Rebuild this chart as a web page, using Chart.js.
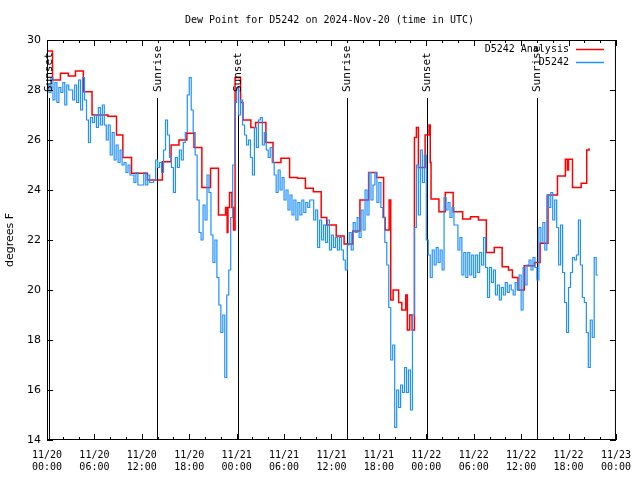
<!DOCTYPE html>
<html><head><meta charset="utf-8">
<script src="https://cdn.jsdelivr.net/npm/chart.js@4"></script>
<style>html,body{margin:0;padding:0;background:#fff}canvas{display:block}</style>
</head><body>
<canvas id="c" width="640" height="480"></canvas>
<script>
const titleText = 'Dew Point for D5242 on 2024-Nov-20 (time in UTC)';
const yAxisTitle = 'degrees F';
const seriesNames = ['D5242 Analysis', 'D5242'];
const seriesColors = ['#ff0000', '#1e90ff'];
const xTickDates = ['11/20','11/20','11/20','11/20','11/21','11/21','11/21','11/21','11/22','11/22','11/22','11/22','11/23'];
const xTickTimes = ['00:00','06:00','12:00','18:00','00:00','06:00','12:00','18:00','00:00','06:00','12:00','18:00','00:00'];
const eventTimes = [0.2, 13.95, 24.15, 37.97, 48.1, 61.98];
const eventLabels = ['Sunset','Sunrise','Sunset','Sunrise','Sunset','Sunrise'];

// hours since 11/20 00:00 UTC
const analysisTimes = [0,0.7,1.7,2.7,3.6,4.6,5.7,7.7,8.8,9.6,
  10.7,12.7,14.6,15.7,16.7,17.7,18.6,19.6,20.7,21.7,
  22.6,22.8,22.9,23.1,23.4,23.6,23.8,24.5,24.8,25.8,
  26.4,27.7,28.6,29.6,30.7,31.7,32.7,33.7,34.7,35.4,
  36.6,37.6,38.7,39.6,40.7,41.7,42.6,42.8,43.3,43.5,
  43.8,44.5,44.9,45.4,45.6,45.9,46.2,46.5,46.75,47.0,
  47.85,48.35,48.5,48.6,49.6,50.4,51.4,52.6,53.6,54.6,
  55.6,56.6,57.6,58.4,58.9,59.6,60.4,61.7,62.4,63.4,
  64.6,65.6,65.85,66.0,66.5,67.6,68.3,68.6];
const analysisValues = [29.56,28.4,28.67,28.56,28.76,27.93,27.0,26.95,26.2,25.3,
  24.67,24.4,25.13,25.8,26.0,26.27,25.7,24.1,24.87,23.0,
  23.3,22.3,23.3,23.9,23.3,22.4,28.5,27.5,26.8,26.5,
  26.7,25.9,25.1,25.27,24.5,24.47,24.07,23.93,22.9,22.6,
  22.16,21.84,22.36,23.6,24.7,24.5,22.9,22.4,23.6,19.6,
  20.0,19.5,19.2,19.8,18.4,19.0,18.4,26.1,26.5,24.9,
  26.2,26.6,25.1,23.64,23.13,23.9,23.13,22.84,22.93,22.8,
  21.5,21.7,20.93,20.8,20.5,20.0,20.97,21.1,21.87,23.8,
  24.56,25.23,24.8,25.23,24.1,24.27,25.6,25.67];

const obsStepHours = 0.25;
const obsValues = [
  28.2,27.9,28.5,27.6, 28.3,27.5,28.1,27.9, 28.3,27.4,28.2,28.0, 28.0,27.6,28.2,27.5,
  28.4,27.2,28.5,27.6, 26.8,25.9,26.9,26.7, 27.0,26.5,27.3,26.6, 27.4,26.6,26.0,26.6,
  25.4,26.3,25.2,25.8, 25.1,25.6,25.0,25.1, 24.7,25.0,24.6,24.6, 24.3,24.7,24.2,24.2,
  24.2,24.7,24.2,24.6, 24.3,24.3,24.4,25.2, 24.9,25.1,24.7,25.6, 26.8,26.2,25.3,24.9,
  23.9,25.3,24.9,25.6, 25.2,25.9,26.3,27.8, 28.5,27.2,26.3,25.4, 23.6,22.3,22.0,23.4,
  22.8,24.6,23.9,22.2, 21.1,22.0,20.5,19.4, 18.3,19.0,16.5,19.8, 20.8,22.9,25.0,27.5,
  28.1,27.0,27.6,26.6, 26.2,25.8,26.0,25.3, 24.6,26.5,25.7,26.8, 26.9,25.8,26.3,25.6,
  25.3,25.7,25.1,24.6, 23.9,24.8,24.0,24.5, 23.6,24.0,23.2,23.8, 23.0,23.6,22.8,23.5,
  23.0,23.6,23.1,23.5, 23.3,23.6,23.6,22.8, 23.2,21.7,22.8,22.0, 22.6,21.9,22.8,21.6,
  22.2,21.7,22.1,21.6, 22.1,21.6,21.2,20.8, 21.8,22.3,21.6,22.7, 22.3,22.9,22.1,23.2,
  22.4,24.0,23.0,24.7, 23.6,24.2,24.7,23.5, 24.3,23.3,22.9,21.9, 21.0,19.3,17.2,17.8,
  14.5,16.0,15.3,16.2, 15.9,16.9,15.9,16.8, 15.2,19.0,22.5,25.0, 23.0,25.6,24.3,25.4,
  22.0,21.4,20.5,21.6, 21.0,21.7,21.1,21.6, 20.8,23.7,23.2,23.5, 22.9,23.3,22.6,22.6,
  21.6,22.1,20.6,21.5, 20.5,21.5,20.6,21.4, 20.5,21.4,20.7,21.5, 21.0,22.1,20.9,19.7,
  20.9,20.3,20.8,19.8, 20.2,19.6,20.1,19.8, 20.3,19.9,20.2,20.0, 19.8,20.3,20.0,20.6,
  19.2,20.9,20.2,21.0, 21.2,20.8,21.3,20.9, 20.4,22.5,21.9,22.7, 21.6,23.8,23.3,23.9,
  22.8,23.6,22.5,21.0, 22.6,20.7,19.5,18.3, 20.1,20.7,21.3,21.2, 21.4,22.8,21.0,19.7,
  19.5,18.3,16.9,18.8, 18.1,21.3,20.6,20.6];

const analysisData = analysisTimes.map((t, i) => ({x: t, y: analysisValues[i]}));
const obsData = obsValues.map((v, i) => ({x: i * obsStepHours, y: v}));

const MONO = 'DejaVu Sans Mono';
const SANS = 'DejaVu Sans';

const decorPlugin = {
  id: 'decor',
  beforeDatasetsDraw(chart) {
    const {ctx, chartArea: a, scales: {x}} = chart;
    ctx.save();
    ctx.strokeStyle = '#000';
    ctx.lineWidth = 1;
    eventTimes.forEach(t => {
      const px = Math.round(x.getPixelForValue(t)) + 0.5;
      ctx.beginPath();
      ctx.moveTo(px, a.top + 58);
      ctx.lineTo(px, a.bottom);
      ctx.stroke();
    });
    ctx.restore();
  },
  afterDraw(chart) {
    const {ctx, chartArea: a, scales: {x, y}} = chart;
    ctx.save();
    ctx.strokeStyle = '#000';
    ctx.lineWidth = 1;
    ctx.strokeRect(a.left + 0.5, a.top + 0.5, a.right - a.left - 1, a.bottom - a.top - 1);
    ctx.beginPath();
    for (let h = 0; h <= 72; h += 2) {
      const px = Math.round(x.getPixelForValue(h)) + 0.5;
      const len = (h % 6 === 0) ? 6 : 3;
      ctx.moveTo(px, a.bottom); ctx.lineTo(px, a.bottom - len);
      ctx.moveTo(px, a.top); ctx.lineTo(px, a.top + len);
    }
    for (let v = 14; v <= 30; v += 2) {
      const py = Math.round(y.getPixelForValue(v)) + 0.5;
      ctx.moveTo(a.left, py); ctx.lineTo(a.left + 6, py);
      ctx.moveTo(a.right, py); ctx.lineTo(a.right - 6, py);
    }
    ctx.stroke();
    ctx.fillStyle = '#000';
    ctx.font = '11px "' + MONO + '"';
    ctx.textAlign = 'left';
    ctx.textBaseline = 'middle';
    eventTimes.forEach((t, i) => {
      const px = x.getPixelForValue(t) + 0.5;
      ctx.save();
      ctx.translate(px, a.top + 52);
      ctx.rotate(-Math.PI / 2);
      ctx.fillText(eventLabels[i], 0, 0);
      ctx.restore();
    });
    ctx.font = '10px "' + MONO + '"';
    ctx.textAlign = 'center';
    ctx.fillText(titleText, (a.left + a.right) / 2 - 2, 20);
    ctx.textAlign = 'right';
    const rows = [a.top + 9.5, a.top + 22.5];
    seriesNames.forEach((name, i) => {
      ctx.fillStyle = '#000';
      ctx.fillText(name, a.right - 47, rows[i]);
      ctx.strokeStyle = seriesColors[i];
      ctx.lineWidth = 1.5;
      ctx.beginPath();
      ctx.moveTo(a.right - 40, Math.round(rows[i]) - 0.5);
      ctx.lineTo(a.right - 12, Math.round(rows[i]) - 0.5);
      ctx.stroke();
    });
    ctx.restore();
  }
};

new Chart(document.getElementById('c'), {
  type: 'line',
  data: {
    datasets: [
      {label: seriesNames[0], data: analysisData, borderColor: seriesColors[0], borderWidth: 1.5,
       pointRadius: 0, stepped: 'before', fill: false, order: 1},
      {label: seriesNames[1], data: obsData, borderColor: seriesColors[1], borderWidth: 1.2,
       pointRadius: 0, stepped: 'before', fill: false, order: 0}
    ]
  },
  options: {
    responsive: false,
    animation: false,
    events: [],
    layout: {padding: {left: 0, right: 18, top: 40, bottom: 0}},
    plugins: {legend: {display: false}, title: {display: false}, tooltip: {enabled: false}},
    scales: {
      x: {
        type: 'linear', min: 0, max: 72,
        grid: {display: false, drawTicks: false},
        border: {display: false},
        ticks: {
          stepSize: 6, autoSkip: false, maxRotation: 0, padding: 9, color: '#000',
          font: {family: MONO, size: 10},
          callback: (v) => { const k = Math.round(v / 6); return [xTickDates[k], xTickTimes[k]]; }
        },
        afterFit: (s) => { s.height = 40; }
      },
      y: {
        min: 14, max: 30,
        grid: {display: false, drawTicks: false},
        border: {display: false},
        ticks: {stepSize: 2, padding: 6, color: '#000', font: {family: SANS, size: 11}},
        title: {display: true, text: yAxisTitle, color: '#000', font: {family: SANS, size: 11}, padding: {top: 4, bottom: 0}},
        afterFit: (s) => { s.width = 47; }
      }
    }
  },
  plugins: [decorPlugin]
});
</script>
</body></html>
